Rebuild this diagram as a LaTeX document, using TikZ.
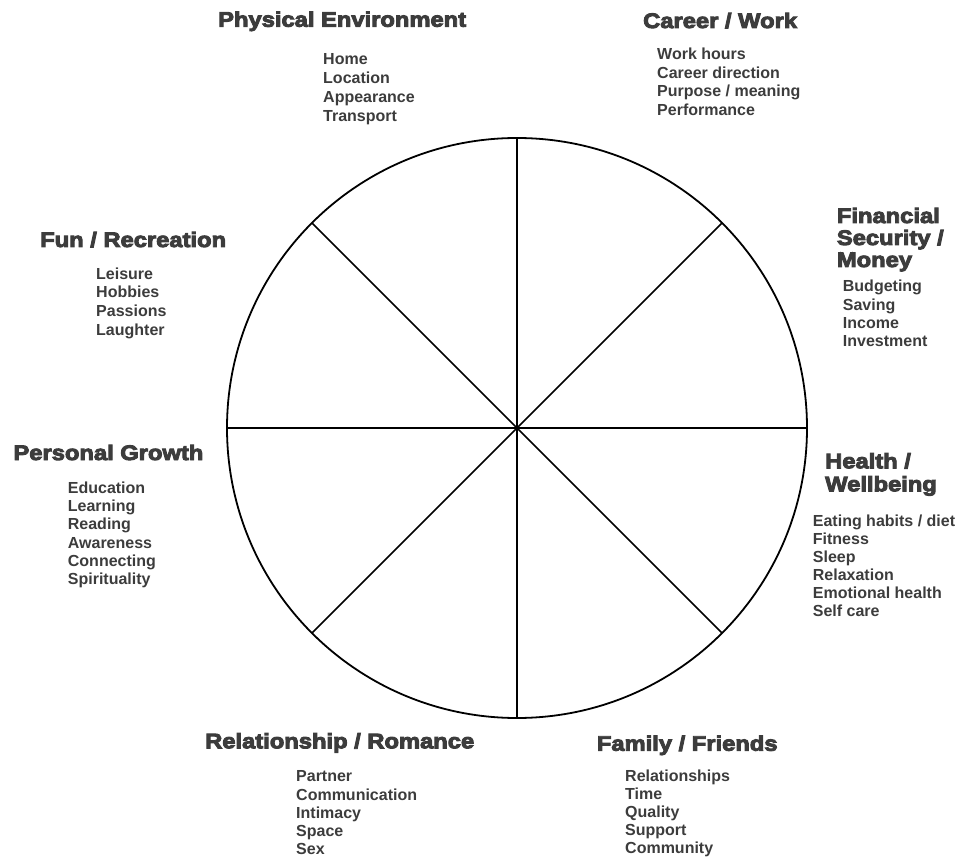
\documentclass[tikz,border=0pt]{standalone}
\usepackage{fontspec}
\setmainfont{Liberation Sans}
\newfontfamily\headfont{Liberation Sans Bold}[FakeBold=4.5,FakeStretch=1.13]
\definecolor{wheeltext}{HTML}{3C3C3C}
\tikzset{
  heading/.style={anchor=base west, inner sep=0pt, text=wheeltext,
    font=\headfont\fontsize{21}{23}\selectfont},
  item/.style={anchor=base west, inner sep=0pt, text=wheeltext,
    font=\bfseries\fontsize{16}{18}\selectfont},
}

\begin{document}
\begin{tikzpicture}[x=1pt,y=-1pt]
\useasboundingbox (0,0) rectangle (961,858);
% the wheel
\coordinate (hub) at (517,428);
\draw[line width=1.8pt] (hub) circle[radius=290];
\foreach \a in {0,45,...,315}
\draw[line width=1.6pt] (hub) -- ++(\a:290);

% headings
\node[heading] (phys) at (218,26.7) {Physical Environment};
\node[heading] (career) at (643,28) {Career / Work};
\node[heading] (money1) at (836.7,223) {Financial};
\node[heading] (money2) at (836.7,245) {Security /};
\node[heading] (money3) at (836.7,267) {Money};
\node[heading] (fun) at (40,247) {Fun / Recreation};
\node[heading] (growth) at (13.3,460) {Personal Growth};
\node[heading] (health1) at (825,468.3) {Health /};
\node[heading] (health2) at (825,491.3) {Wellbeing};
\node[heading] (romance) at (205,748.3) {Relationship / Romance};
\node[heading] (family) at (596.7,750.7) {Family / Friends};

% items under each heading
\foreach \t [count=\i] in {Home,Location,Appearance,Transport}
\node[item] (phys-\i) at (323,65+18.7*\i-18.7) {\t};
\foreach \t [count=\i] in {Work hours,Career direction,Purpose / meaning,Performance}
\node[item] (career-\i) at (657,60+18.4*\i-18.4) {\t};
\foreach \t [count=\i] in {Budgeting,Saving,Income,Investment}
\node[item] (money-\i) at (842.7,291.7+18.4*\i-18.4) {\t};
\foreach \t [count=\i] in {Leisure,Hobbies,Passions,Laughter}
\node[item] (fun-\i) at (96,279.3+18.6*\i-18.6) {\t};
\foreach \t [count=\i] in {Education,Learning,Reading,Awareness,Connecting,Spirituality}
\node[item] (growth-\i) at (67.7,493.3+18.3*\i-18.3) {\t};
\foreach \t [count=\i] in {Eating habits / diet,Fitness,Sleep,Relaxation,Emotional health,Self care}
\node[item] (health-\i) at (812.7,526.7+18*\i-18) {\t};
\foreach \t [count=\i] in {Partner,Communication,Intimacy,Space,Sex}
\node[item] (romance-\i) at (296,781.7+18.3*\i-18.3) {\t};
\foreach \t [count=\i] in {Relationships,Time,Quality,Support,Community}
\node[item] (family-\i) at (625,781+18.2*\i-18.2) {\t};
\end{tikzpicture}
\end{document}
